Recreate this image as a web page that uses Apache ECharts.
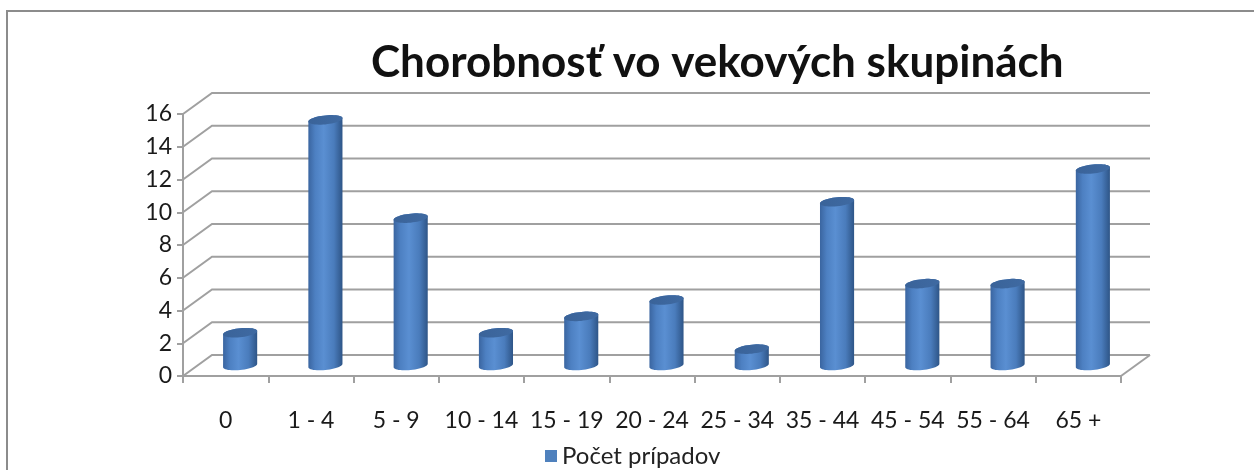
<!DOCTYPE html>
<html>
<head>
<meta charset="utf-8">
<script src="https://cdn.jsdelivr.net/npm/echarts@6/dist/echarts.min.js"></script>
<style>
  html, body { margin: 0; padding: 0; background: #fff; }
  #chart { width: 1254px; height: 470px; }
</style>
</head>
<body>
<div id="chart"></div>
<script>
  // data
  var categories = ['0', '1 - 4', '5 - 9', '10 - 14', '15 - 19', '20 - 24', '25 - 34', '35 - 44', '45 - 54', '55 - 64', '65 +'];
  var cases = [2, 15, 9, 2, 3, 4, 1, 10, 5, 5, 12];
  var yTicks = [0, 2, 4, 6, 8, 10, 12, 14, 16];
  var seriesName = 'Počet prípadov';
  var titleText = 'Chorobnosť vo vekových skupinách';

  // fake 3d depth (back wall offset)
  var DX = 29, DY = -21;
  var gridColor = '#a0a0a0';
  var font = 'Lato, "Open Sans", sans-serif';

  var chart = echarts.init(document.getElementById('chart'));

  function skewY(x, cx) {
    return -0.1 * (x - cx);
  }

  function renderWall(params, api) {
    var v = api.value(1);
    var cs = params.coordSys;
    var y = api.coord([0, v])[1];
    var x0 = cs.x, x1 = cs.x + cs.width;
    var children = [{
      type: 'polyline',
      shape: { points: [[x0, y], [x0 + DX, y + DY], [x1 + DX, y + DY]] },
      style: { stroke: gridColor, lineWidth: 2, fill: null }
    }];
    if (v === 0) {
      children.push({
        type: 'line',
        shape: { x1: x1, y1: y, x2: x1 + DX, y2: y + DY },
        style: { stroke: gridColor, lineWidth: 2 }
      });
    }
    return { type: 'group', children: children };
  }

  function renderCylinder(params, api) {
    var i = api.value(0), v = api.value(1);
    var top = api.coord([i, v]);
    var base = api.coord([i, 0]);
    var w = api.size([1, 0])[0] * 0.4;
    var rx = w / 2, ry = 4.5;
    var cx = top[0] + DX / 2;
    var ty = top[1] + DY / 2;
    var by = base[1] + DY / 2;
    var n = 24, k, t, x;

    var body = [];
    body.push([cx - rx, ty + skewY(cx - rx, cx)]);
    body.push([cx - rx, by + skewY(cx - rx, cx)]);
    for (k = 0; k <= n; k++) {
      t = Math.PI - Math.PI * k / n;
      x = cx + rx * Math.cos(t);
      body.push([x, by + ry * Math.sin(t) + skewY(x, cx)]);
    }
    body.push([cx + rx, ty + skewY(cx + rx, cx)]);
    for (k = 0; k <= n; k++) {
      t = -Math.PI * k / n;
      x = cx + rx * Math.cos(t);
      body.push([x, ty + ry * Math.sin(t) + skewY(x, cx)]);
    }

    var cap = [];
    for (k = 0; k < 2 * n; k++) {
      t = Math.PI * 2 * k / (2 * n);
      x = cx + rx * Math.cos(t);
      cap.push([x, ty + ry * Math.sin(t) + skewY(x, cx)]);
    }

    return {
      type: 'group',
      children: [{
        type: 'polygon',
        shape: { points: body },
        style: {
          fill: {
            type: 'linear', x: 0, y: 0, x2: 1, y2: 0,
            colorStops: [
              { offset: 0, color: '#3a65a0' },
              { offset: 0.2, color: '#4d80c2' },
              { offset: 0.45, color: '#5a8fd2' },
              { offset: 0.75, color: '#4a7cbc' },
              { offset: 1, color: '#2e5587' }
            ]
          }
        }
      }, {
        type: 'polygon',
        shape: { points: cap },
        style: {
          fill: {
            type: 'linear', x: 0, y: 0, x2: 1, y2: 0,
            colorStops: [
              { offset: 0, color: '#3a6399' },
              { offset: 1, color: '#3f6aa2' }
            ]
          }
        }
      }]
    };
  }

  var option = {
    animation: false,
    backgroundColor: '#fff',
    title: {
      text: titleText,
      left: 366,
      top: 36,
      textStyle: { fontFamily: font, fontSize: 44, fontWeight: 'bold', color: '#111' }
    },
    legend: {
      data: [seriesName],
      left: 540,
      top: 439,
      icon: 'rect',
      itemWidth: 12,
      itemHeight: 12,
      textStyle: { fontFamily: font, fontSize: 24, color: '#222' }
    },
    graphic: [{
      type: 'rect',
      shape: { x: 7, y: 11, width: 1300, height: 500 },
      style: { fill: null, stroke: '#8c8c8c', lineWidth: 2 },
      silent: true
    }],
    grid: { left: 183, top: 114, width: 938, height: 262 },
    xAxis: {
      type: 'category',
      data: categories,
      boundaryGap: true,
      axisLine: { lineStyle: { color: gridColor, width: 2 } },
      axisTick: { show: true, interval: 0, length: 7, lineStyle: { color: gridColor, width: 2 } },
      axisLabel: { interval: 0, margin: 33, fontFamily: font, fontSize: 23, color: '#1a1a1a' },
      splitLine: { show: false }
    },
    yAxis: {
      type: 'value',
      min: 0,
      max: 16,
      interval: 2,
      axisLine: { show: true, lineStyle: { color: gridColor, width: 2 } },
      axisTick: { show: true, length: 6, lineStyle: { color: gridColor, width: 2 } },
      axisLabel: { margin: 11, fontFamily: font, fontSize: 23, color: '#1a1a1a' },
      splitLine: { show: false }
    },
    series: [{
      name: 'walls',
      type: 'custom',
      renderItem: renderWall,
      data: yTicks.map(function (v) { return [0, v]; }),
      silent: true,
      z: 1
    }, {
      name: seriesName,
      type: 'custom',
      renderItem: renderCylinder,
      itemStyle: { color: '#4f81bd' },
      data: cases.map(function (v, i) { return [i, v]; }),
      z: 3
    }]
  };

  chart.setOption(option);
</script>
</body>
</html>
